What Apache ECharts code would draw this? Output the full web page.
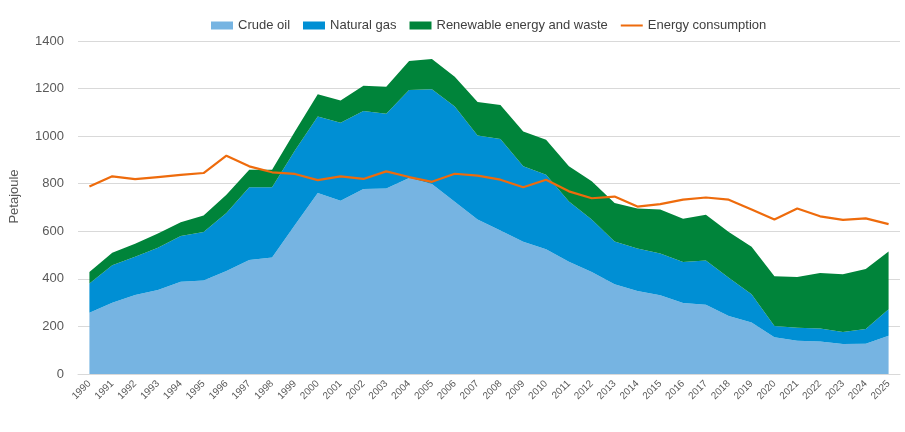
<!DOCTYPE html>
<html><head><meta charset="utf-8">
<script src="https://cdn.jsdelivr.net/npm/echarts@6/dist/echarts.min.js"></script>
<style>html,body{margin:0;padding:0;background:#fff}#c{width:905px;height:432px}</style>
</head><body><div id="c"></div>
<script>
const years = ['1990','1991','1992','1993','1994','1995','1996','1997','1998','1999','2000','2001','2002','2003','2004','2005','2006','2007','2008','2009','2010','2011','2012','2013','2014','2015','2016','2017','2018','2019','2020','2021','2022','2023','2024','2025'];
const crudeOil = [258,300,332,353,388,393,433,479,490,626,761,728,778,780,824,799,724,650,603,556,524,472,429,377,349,331,299,291,244,217,154,140,137,126,127,161];
const naturalGas = [122,157,161,178,192,204,244,306,295,314,322,328,328,314,370,398,401,353,385,317,314,253,221,180,179,176,172,186,161,118,48,54,54,51,62,111];
const renewable = [49,53,55,60,58,69,77,74,74,80,93,94,106,114,122,127,125,141,143,147,147,148,160,162,168,185,182,192,192,200,209,214,234,242,252,243];
const consumption = [788,831,819,828,837,845,918,873,848,841,815,831,820,852,828,808,842,834,817,785,817,768,739,746,704,714,733,742,733,692,650,696,663,648,654,630];
const yTicks = [0,200,400,600,800,1000,1200,1400];

const font = 'Liberation Sans, Arial, sans-serif';
const chart = echarts.init(document.getElementById('c'), null, {renderer:'canvas'});
function area(name, data, color){
  return {name, type:'line', stack:'total', data, symbol:'none', smooth:false,
    lineStyle:{width:0}, areaStyle:{color, opacity:1}, itemStyle:{color}, z:2};
}
const lineIcon = 'path://M0,0 L22,0 L22,0.01 Z M0,3 L22,3 L22,5 L0,5 Z M0,8 L22,8 L22,8.01 Z';
chart.setOption({
  animation:false,
  textStyle:{fontFamily:font},
  legend:{top:14, left:206, itemWidth:22, itemHeight:8, itemGap:13,
    textStyle:{color:'#404040', fontSize:13, fontFamily:font},
    data:[
      {name:'Crude oil', icon:'rect'},
      {name:'Natural gas', icon:'rect'},
      {name:'Renewable energy and waste', icon:'rect'},
      {name:'Energy consumption', icon:lineIcon}
    ]},
  grid:{left:75, right:5, top:41, bottom:58, containLabel:false},
  xAxis:{type:'category', data:years, boundaryGap:true,
    axisLine:{show:true, lineStyle:{color:'#d9d9d9'}},
    axisTick:{show:false},
    axisLabel:{rotate:45, interval:0, fontSize:10, color:'#595959', fontFamily:font, margin:8}},
  yAxis:{type:'value', min:0, max:1400, interval:200,
    name:'Petajoule', nameLocation:'middle', nameGap:57, nameRotate:90,
    nameTextStyle:{color:'#595959', fontSize:13, fontFamily:font, padding:[0,0,0,22]},
    axisLine:{show:false}, axisTick:{show:false},
    axisLabel:{color:'#595959', fontSize:13, fontFamily:font, margin:14,
      formatter:v=> yTicks.includes(v) ? String(v) : ''},
    splitLine:{lineStyle:{color:'#d9d9d9', width:1}}},
  series:[
    area('Crude oil', crudeOil, '#76b4e2'),
    area('Natural gas', naturalGas, '#008fd4'),
    area('Renewable energy and waste', renewable, '#00843a'),
    {name:'Energy consumption', type:'line', data:consumption, symbol:'none',
      lineStyle:{color:'#ee6b0c', width:2.2}, itemStyle:{color:'#ee6b0c'}, z:5}
  ]
});
</script></body></html>
